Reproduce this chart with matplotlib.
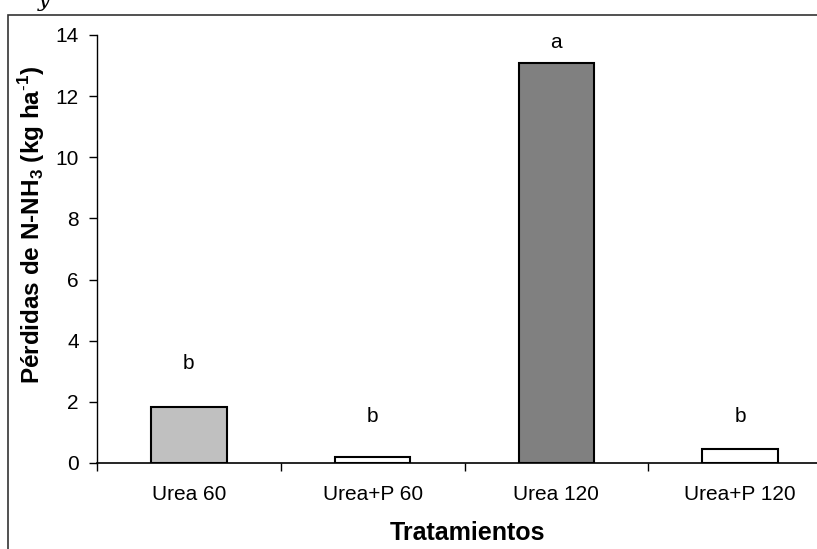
import matplotlib
matplotlib.use('Agg')
import matplotlib.pyplot as plt
from matplotlib.patches import Rectangle

plt.rcParams['font.family'] = ['Liberation Sans', 'DejaVu Sans']
plt.rcParams['mathtext.fontset'] = 'custom'
plt.rcParams['mathtext.rm'] = 'Liberation Sans'
plt.rcParams['mathtext.bf'] = 'Liberation Sans:bold'

tratamientos = ['Urea 60', 'Urea+P 60', 'Urea 120', 'Urea+P 120']
perdidas = [1.83, 0.2, 13.08, 0.46]
letras = ['b', 'b', 'a', 'b']
letra_y = [2.95, 1.2, 13.45, 1.2]
colores = ['#C0C0C0', '#FFFFFF', '#808080', '#FFFFFF']

fig = plt.figure(figsize=(8.17, 5.49), dpi=100)
fig.patches.append(Rectangle((8/817, -0.2), 1.0, (549-15)/549 + 0.2,
                             transform=fig.transFigure, fill=False,
                             edgecolor='#333333', linewidth=1.2))
fig.text(44/817, 1.0, 'y', family='serif', style='italic', fontsize=16,
         ha='center', va='center')

ax = fig.add_axes([97/817, 86/549, (832-97)/817, (463-35)/549])
x = range(len(tratamientos))
ax.bar(x, perdidas, width=0.41, color=colores, edgecolor='black', linewidth=1.5)
for i in x:
    ax.text(i, letra_y[i], letras[i], ha='center', va='bottom', fontsize=15)

ax.set_xlim(-0.5, 3.5)
ax.set_ylim(0, 14)
ax.set_yticks(range(0, 15, 2))
ax.set_xticks(list(x))
ax.set_xticklabels(tratamientos, fontsize=15)
ax.set_xticks([-0.5, 0.5, 1.5, 2.5, 3.5], minor=True)
ax.tick_params(axis='x', which='major', length=0, pad=16)
ax.tick_params(axis='x', which='minor', length=6, direction='out', width=1)
ax.tick_params(axis='y', labelsize=15, length=6, direction='out', width=1, pad=7)
ax.spines['top'].set_visible(False)
ax.spines['right'].set_visible(False)
ax.spines['left'].set_linewidth(1)
ax.spines['bottom'].set_linewidth(1.2)

fig.text(467/817, 1 - 533/549, 'Tratamientos', fontsize=18, fontweight='bold',
         ha='center', va='center')
fig.text(32/817, 1 - 225/549,
         r'Pérdidas de N-NH$_\mathbf{3}$ (kg ha$^{\mathbf{\text{-}1}}$)',
         fontsize=17.5, fontweight='bold', rotation=90, ha='center', va='center')

fig.savefig('out.png', dpi=100)
